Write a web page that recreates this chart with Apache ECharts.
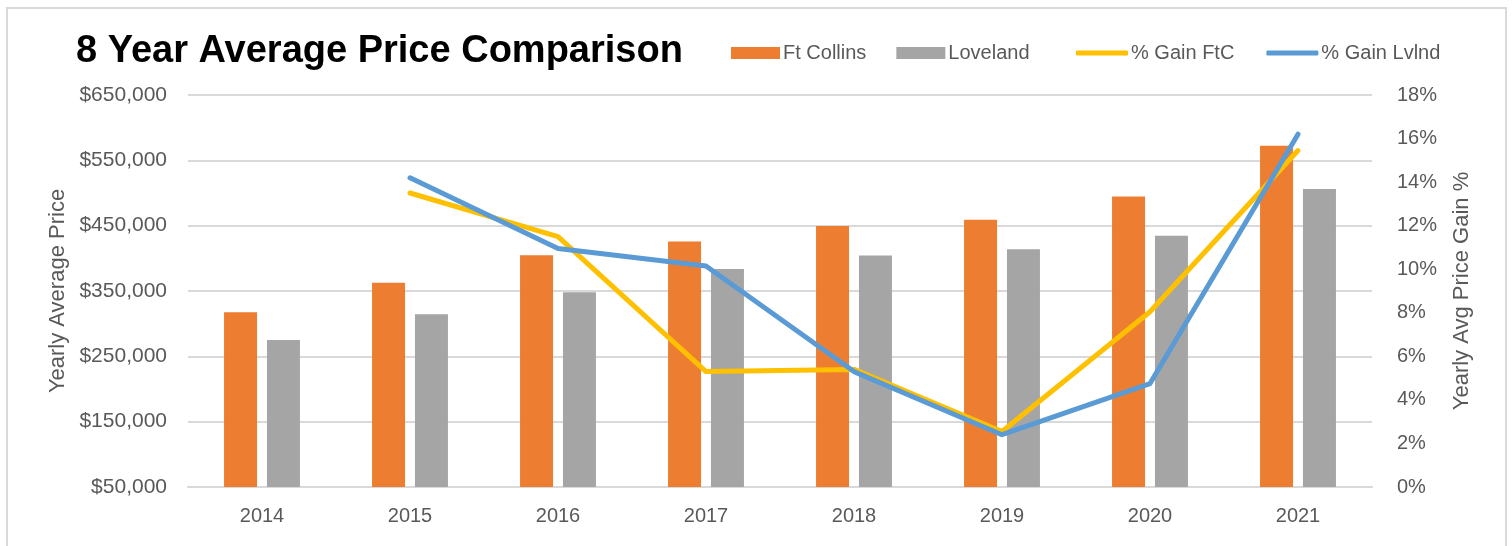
<!DOCTYPE html>
<html>
<head>
<meta charset="utf-8">
<title>8 Year Average Price Comparison</title>
<script src="https://cdn.jsdelivr.net/npm/echarts@6/dist/echarts.min.js"></script>
<style>
  html, body { margin: 0; padding: 0; background: #fff; overflow: hidden; }
  #chart { position: absolute; left: 0; top: 0; width: 1512px; height: 546px; }
  #frame { position: absolute; left: 6px; top: 7px; width: 1497px; height: 600px;
           border: 2px solid #d9d9d9; pointer-events: none; }
</style>
</head>
<body>
<div id="chart"></div>
<div id="frame"></div>
<script>
// data
let years = ['2014', '2015', '2016', '2017', '2018', '2019', '2020', '2021'];
let ftCollins = [317500, 362500, 404800, 425800, 449500, 459000, 494500, 572500];
let loveland = [275000, 314500, 348200, 383500, 404200, 413900, 434400, 506300];
let gainFtC = [null, 13.5, 11.5, 5.3, 5.4, 2.55, 8.05, 15.45];
let gainLvlnd = [null, 14.2, 10.95, 10.15, 5.3, 2.4, 4.75, 16.2];

let font = 'Liberation Sans';
let textGrey = '#595959';
let gridGrey = '#d9d9d9';

let chart = echarts.init(document.getElementById('chart'));

let money = v => '$' + v.toLocaleString('en-US');
let legendText = { fontFamily: font, fontSize: 20, color: textGrey, padding: [0, 0, 0, -2] };

chart.setOption({
  animation: false,
  textStyle: { fontFamily: font },
  title: {
    text: '8 Year Average Price Comparison',
    left: 71,
    top: 28,
    textStyle: { fontFamily: font, fontSize: 38, fontWeight: 'bold', color: '#000' }
  },
  // bars and lines get their own legend so the line keys stay thin
  legend: [
    {
      left: 726,
      top: 38,
      itemWidth: 49,
      itemHeight: 12,
      itemGap: 30,
      icon: 'rect',
      textStyle: legendText,
      data: ['Ft Collins', 'Loveland']
    },
    {
      left: 1071,
      top: 38,
      itemWidth: 52,
      itemHeight: 5,
      itemGap: 32,
      icon: 'roundRect',
      textStyle: legendText,
      data: ['% Gain FtC', '% Gain Lvlnd']
    }
  ],
  grid: { left: 188, right: 140, top: 95, bottom: 59 },
  xAxis: {
    type: 'category',
    data: years,
    axisTick: { show: false },
    axisLine: { lineStyle: { color: gridGrey, width: 2 } },
    axisLabel: { color: textGrey, fontSize: 20, margin: 19, fontFamily: font }
  },
  yAxis: [
    {
      type: 'value',
      min: 50000,
      max: 650000,
      interval: 50000,
      name: 'Yearly Average Price',
      nameLocation: 'middle',
      nameRotate: 90,
      nameGap: 119,
      nameTextStyle: { color: textGrey, fontSize: 22, fontFamily: font },
      axisLine: { show: false },
      axisTick: { show: false },
      axisLabel: {
        color: textGrey, fontSize: 21, margin: 21, fontFamily: font,
        formatter: v => ((v - 50000) % 100000 === 0 ? money(v) : '')
      },
      splitLine: { lineStyle: { color: [gridGrey, 'rgba(0,0,0,0)'], width: 2 } }
    },
    {
      type: 'value',
      min: 0,
      max: 18,
      interval: 2,
      position: 'right',
      name: 'Yearly Avg Price Gain %',
      nameLocation: 'middle',
      nameRotate: 90,
      nameGap: 79,
      nameTextStyle: { color: textGrey, fontSize: 22, fontFamily: font },
      axisLine: { show: false },
      axisTick: { show: false },
      axisLabel: { color: textGrey, fontSize: 20, margin: 25, fontFamily: font, formatter: '{value}%' },
      splitLine: { show: false }
    }
  ],
  series: [
    {
      name: 'Ft Collins',
      type: 'bar',
      data: ftCollins,
      barWidth: 33,
      barGap: '30%',
      itemStyle: { color: '#ed7d31' }
    },
    {
      name: 'Loveland',
      type: 'bar',
      data: loveland,
      barWidth: 33,
      itemStyle: { color: '#a5a5a5' }
    },
    {
      name: '% Gain FtC',
      type: 'line',
      yAxisIndex: 1,
      data: gainFtC,
      symbol: 'none',
      lineStyle: { color: '#ffc000', width: 5, cap: 'round', join: 'round' },
      itemStyle: { color: '#ffc000' }
    },
    {
      name: '% Gain Lvlnd',
      type: 'line',
      yAxisIndex: 1,
      data: gainLvlnd,
      symbol: 'none',
      lineStyle: { color: '#5b9bd5', width: 5, cap: 'round', join: 'round' },
      itemStyle: { color: '#5b9bd5' }
    }
  ]
});
</script>
</body>
</html>
